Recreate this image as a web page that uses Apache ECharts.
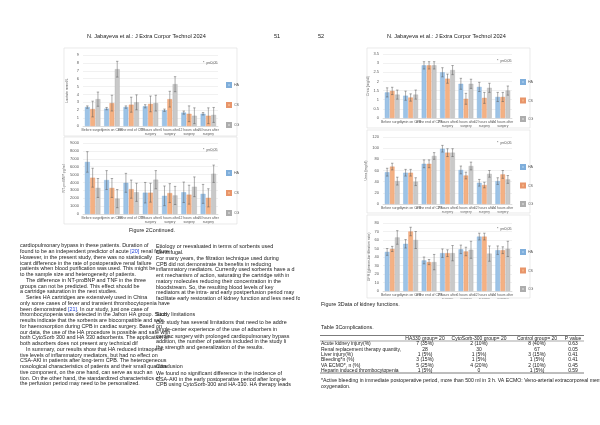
<!DOCTYPE html>
<html><head><meta charset="utf-8">
<script src="https://cdn.jsdelivr.net/npm/echarts@6/dist/echarts.min.js"></script>
<style>html,body{margin:0;padding:0;background:#fff}#c{width:600px;height:425px}</style>
</head><body><div id="c"></div>
<script>
// ---------- data ----------
const categories = ['Before surgery','5 min on CPB','at the end of CPB','2 hours after\nsurgery','6 hours after\nsurgery','12 hours after\nsurgery','24 hours after\nsurgery'];
const groups = ['HA','CS','CG'];

const lactHA = [2.4, 2.2, 2.4, 2.5, 2.0, 1.7, 1.55];
const lactCS = [2.15, 2.9, 2.7, 2.8, 3.4, 1.55, 1.3];
const lactCG = [3.4, 7.2, 3.0, 2.9, 5.3, 1.3, 1.4];
const lactHAErr = [0.15, 0.15, 0.15, 0.2, 0.15, 0.2, 0.15];
const lactCSErr = [1.0, 1.0, 0.95, 1.0, 1.0, 1.0, 1.0];
const lactCGErr = [0.9, 1.0, 0.95, 1.0, 0.95, 1.0, 0.95];

const bnpHA = [6600, 4300, 3950, 2700, 2300, 2750, 2550];
const bnpCS = [4600, 3300, 3150, 2700, 2650, 2450, 2050];
const bnpCG = [3300, 1950, 2750, 4350, 2350, 3450, 5100];
const bnpHAErr = [1300, 1200, 1200, 1300, 1250, 1300, 1200];
const bnpCSErr = [1200, 1200, 1150, 1200, 1200, 1200, 1150];
const bnpCGErr = [1200, 1150, 1150, 1150, 1150, 1250, 1100];

const creaHA = [1.4, 1.22, 2.88, 2.5, 1.87, 1.7, 1.15];
const creaCS = [1.48, 1.12, 2.88, 2.15, 1.05, 1.1, 1.15];
const creaCG = [1.28, 1.28, 2.88, 2.62, 1.87, 1.65, 1.5];
const creaHAErr = [0.25, 0.25, 0.2, 0.25, 0.3, 0.25, 0.25];
const creaCSErr = [0.2, 0.2, 0.2, 0.25, 0.3, 0.3, 0.25];
const creaCGErr = [0.25, 0.25, 0.2, 0.25, 0.25, 0.25, 0.25];

const ureaHA = [57, 56, 72, 99, 61, 38, 41];
const ureaCS = [67, 56, 72, 92, 51, 34, 53];
const ureaCG = [41, 40, 86, 92, 68, 54, 44];
const ureaHAErr = [7, 6, 7, 6, 7, 6, 6];
const ureaCSErr = [6, 6, 7, 7, 6, 5, 7];
const ureaCGErr = [7, 7, 6, 7, 7, 6, 7];

const gfrHA = [46, 55.5, 36, 44.5, 49, 64, 48];
const gfrCS = [49.5, 70, 34, 44.5, 46.5, 64, 48];
const gfrCG = [63, 60, 34, 44.5, 48.5, 44, 49.5];
const gfrHAErr = [4, 5, 4, 5, 5, 4, 5];
const gfrCSErr = [3, 5, 3, 4, 5, 4, 4];
const gfrCGErr = [8, 10, 9, 9, 10, 9, 9];

const yTicks = [
  {min:0, max:9, interval:1},
  {min:0, max:9000, interval:1000},
  {min:0, max:3.5, interval:0.5},
  {min:0, max:120, interval:20},
  {min:0, max:80, interval:10}
];
const yNames = ['Lactate mmol/L','NT-proBNP pg/ml','Crea (mg/dl)','Urea (mg/dl)','GFR (glomerular filtration rate)'];

const tableHead = ['', 'HA330 group= 20', 'CytoSorb-300 group= 20', 'Control group= 20', 'P value'];
const tableRows = [
  ['Acute kidney injury(%)', '7 (35%)', '2 (10%)', '8 (40%)', '0.63'],
  ['Renal replacement therapy quantity,', '28', '30', '67', '0.05'],
  ['Liver injury(%)', '1 (5%)', '1 (5%)', '3 (15%)', '0.41'],
  ['Bleeding*n (%)', '3 (15%)', '1 (5%)', '1 (5%)', '0.41'],
  ['VA ECMO*, n (%)', '5 (25%)', '4 (20%)', '2 (10%)', '0.45'],
  ['Heparin induced thrombocytopenia', '1 (5%)', '0', '1 (5%)', '0.59']
];

const leftColA = [
  'cardiopulmonary bypass in these patients. Duration of',
  'found to be an independent predictor of acute {b|[20]} renal failure',
  'However, in the present study, there was no statistically',
  'icant difference in the rate of postoperative renal failure',
  'patients when blood purification was used. This might be',
  'to the sample size and heterogeneity of patients.',
  '    The difference in NT-proBNP and TNF in the three',
  'groups can not be predicted. This effect should be',
  'a cartridge saturation in the next studies.',
  '    Series HA cartridges are extensively used in China',
  'only some cases of fever and transient thrombocytopenia have',
  'been demonstrated {b|[21]}. In our study, just one case of',
  'thrombocytopenia was detected in the Jafron HA group. Such',
  'results indicate that the sorbents are biocompatible and safe',
  'for haemosorption during CPB in cardiac surgery. Based on',
  'our data, the use of the HA procedure is possible and safe with',
  'both CytoSorb 300 and HA 330 adsorbents. The application of',
  'both adsorbers does not present any technical dif',
  '    In summary, our results show that HA reduced intraopera-',
  'tive levels of inflammatory mediators, but had no effect on',
  'CSA-AKI in patients after long-term CPB. The heterogeneous',
  'nosological characteristics of patients and their small quantita-',
  'tive component, on the one hand, can serve as such an',
  'tion. On the other hand, the standardized characteristics of',
  'the perfusion period may need to be personalized.'
];
const leftColB = [
  [0, 'Etiology or reevaluated in terms of sorbents used'],
  [1, 'Centrifugal.'],
  [2, 'For many years, the filtration technique used during'],
  [3, 'CPB did not demonstrate its benefits in reducing'],
  [4, 'inflammatory mediators. Currently used sorbents have a d'],
  [5, 'ent mechanism of action, saturating the cartridge with in'],
  [6, 'matory molecules reducing their concentration in the'],
  [7, 'bloodstream. So, the resulting blood levels of key'],
  [8, 'mediators at the intra- and early postperfusion period may'],
  [9, 'facilitate early restoration of kidney function and less need for'],
  [11.8, 'Study limitations'],
  [13.2, 'Our study has several limitations that need to be addre'],
  [14.4, 'single-center experience of the use of adsorbers in'],
  [15.5, 'cardiac surgery with prolonged cardiopulmonary bypass'],
  [16.5, 'addition, the number of patients included in the study li'],
  [17.5, 'the strength and generalization of the results.'],
  [20.8, 'Conclusion'],
  [22, 'We found no significant difference in the incidence of'],
  [23, 'CSA-AKI in the early postoperative period after long-te'],
  [24, 'CPB using CytoSorb-300 and HA-330. HA therapy leads']
];

// ---------- layout ----------
const colors = ['#9DC3E6', '#F4B183', '#C9C9C9'];
const borders = ['#7FAEDB', '#E8956A', '#ADADAD'];
const FONT = 'Liberation Sans, Arial, sans-serif';
const grids = [
  {left:83, top:55, width:135, height:71},
  {left:83, top:143, width:135, height:71},
  {left:383, top:54, width:129, height:64},
  {left:383, top:137, width:129, height:67},
  {left:383, top:223, width:129, height:68}
];
const legendPos = [
  {left:221, top:77}, {left:221, top:165},
  {left:515, top:74}, {left:515, top:159}, {left:515, top:244}
];
const panels = [
  [64,48,173,88],[64,137,173,87],[367,48,163,80],[367,130,163,83],[367,215,163,83]
];
const chartData = [
  [[lactHA,lactCS,lactCG],[lactHAErr,lactCSErr,lactCGErr]],
  [[bnpHA,bnpCS,bnpCG],[bnpHAErr,bnpCSErr,bnpCGErr]],
  [[creaHA,creaCS,creaCG],[creaHAErr,creaCSErr,creaCGErr]],
  [[ureaHA,ureaCS,ureaCG],[ureaHAErr,ureaCSErr,ureaCGErr]],
  [[gfrHA,gfrCS,gfrCG],[gfrHAErr,gfrCSErr,gfrCGErr]]
];

const xAxis = [], yAxis = [], series = [], legend = [];
grids.forEach((g, i) => {
  xAxis.push({
    type:'category', gridIndex:i, data:categories,
    axisTick:{show:false},
    axisLine:{lineStyle:{color:'#d0d0d0', width:0.6}},
    axisLabel:{fontSize:3.4, color:'#595959', fontFamily:FONT, interval:0, margin:2, lineHeight:4}
  });
  yAxis.push({
    type:'value', gridIndex:i, min:yTicks[i].min, max:yTicks[i].max, interval:yTicks[i].interval,
    name:yNames[i], nameLocation:'middle', nameRotate:90, nameGap:i<2?14:12,
    nameTextStyle:{fontSize:3.6, color:'#595959', fontFamily:FONT},
    axisLine:{show:false}, axisTick:{show:false},
    splitLine:{lineStyle:{color:'#e2e2e2', width:0.5}},
    axisLabel:{fontSize:4, color:'#595959', fontFamily:FONT, margin:4, formatter: v => String(v)}
  });
  legend.push({
    orient:'vertical', left:legendPos[i].left, top:legendPos[i].top,
    data:groups, itemWidth:4, itemHeight:4, itemGap:i<2?14:12.5, icon:'rect',
    textStyle:{fontSize:3.6, color:'#595959', fontFamily:FONT, padding:[0,0,0,-2]},
    selectedMode:false
  });
  const [vals, errs] = chartData[i];
  groups.forEach((name, k) => {
    series.push({
      type:'bar', name, xAxisIndex:i, yAxisIndex:i, data:vals[k],
      barGap:'10%', barCategoryGap:'20%',
      itemStyle:{color:colors[k], borderColor:borders[k], borderWidth:0.4},
      emphasis:{disabled:true}, animation:false
    });
  });
  groups.forEach((name, k) => {
    series.push({
      type:'custom', xAxisIndex:i, yAxisIndex:i, silent:true, animation:false, z:5,
      data: vals[k].map((v, j) => [j, v, errs[k][j]]),
      renderItem: (params, api) => {
        const j = api.value(0), v = api.value(1), e = api.value(2);
        const band = api.size([1, 0])[0];
        const w = band * 0.25;
        const dx = (k - 1) * 1.1 * w;
        const top = api.coord([j, v + e]);
        const bot = api.coord([j, Math.max(0, v - e)]);
        const x = top[0] + dx;
        const cap = 1.2;
        const st = {stroke:'#5a5a5a', lineWidth:0.5, fill:null};
        return {type:'group', children:[
          {type:'line', shape:{x1:x, y1:top[1], x2:x, y2:bot[1]}, style:st},
          {type:'line', shape:{x1:x-cap, y1:top[1], x2:x+cap, y2:top[1]}, style:st},
          {type:'line', shape:{x1:x-cap, y1:bot[1], x2:x+cap, y2:bot[1]}, style:st}
        ]};
      }
    });
  });
});

// ---------- page text ----------
const g = [];
function T(x, y, s, o) {
  o = o || {};
  g.push({type:'text', x, y, z:o.z || 10, silent:true, style:{
    text:s, fontSize:o.size || 5.4, fontFamily:FONT, fill:o.color || '#1a1a1a',
    align:o.align || 'left', verticalAlign:'middle',
    rich:{b:{fill:'#1f3fd6', fontSize:o.size || 5.4, fontFamily:FONT}}
  }});
}
panels.forEach(p => g.push({type:'rect', z:1, silent:true, shape:{x:p[0], y:p[1], width:p[2], height:p[3]}, style:{fill:null, stroke:'#dcdcdc', lineWidth:0.6}}));
T(87, 36, 'N. Jabayeva et al.: J Extra Corpor Technol 2024', {size:5.6, z:30});
T(274, 36, '51', {size:5.6, z:30});
T(318, 36, '52', {size:5.6, z:30});
T(387, 36, 'N. Jabayeva et al.: J Extra Corpor Technol 2024', {size:5.6, z:30});
[[203,63],[203,150],[497,61],[497,143],[497,229]].forEach(p => T(p[0], p[1], '*  p<0,05', {size:3.6, color:'#444', z:30}));
T(152, 231, 'Figure 2Continued.', {size:5.4, align:'center', z:30});
const L0 = 246, LS = 5.75;
leftColA.forEach((s, i) => T(20, L0 + i * LS, s, {z:10}));
leftColB.forEach(([i, s]) => T(156, L0 + 1 + i * LS, s, {z:10}));
g.push({type:'rect', z:20, silent:true, shape:{x:300, y:238, width:66, height:62}, style:{fill:'#fff'}});
g.push({type:'rect', z:20, silent:true, shape:{x:300, y:299, width:300, height:110}, style:{fill:'#fff'}});
T(321, 305, 'Figure 3Data of kidney functions.', {size:5.4, z:30});
T(321, 328, 'Table 3Complications.', {size:5.4, z:30});
const colX = [321, 425, 479, 537, 573];
const TS = 5.0;
for (let c = 1; c < 5; c++) T(colX[c], 338.3, tableHead[c], {size:TS, align:'center', z:30});
tableRows.forEach((r, i) => {
  const y = 344 + i * 5.3;
  T(colX[0], y, r[0], {size:TS, z:30});
  for (let c = 1; c < 5; c++) T(colX[c], y, r[c], {size:TS, align:'center', z:30});
});
[[335.5, 0.6], [341, 0.4], [373, 0.6]].forEach(([y, w]) => g.push({type:'line', z:30, silent:true, shape:{x1:320, y1:y, x2:584, y2:y}, style:{stroke:'#222', lineWidth:w}}));
T(321, 381, '*Active bleeding in immediate postoperative period, more than 500 ml in 3 h. VA ECMO: Veno-arterial extracorporeal membrane', {size:5.2, z:30});
T(321, 387, 'oxygenation.', {size:5.2, z:30});

const chart = echarts.init(document.getElementById('c'), null, {renderer:'canvas'});
chart.setOption({
  backgroundColor:'#fff', animation:false,
  grid:grids, xAxis, yAxis, legend, series, graphic:g
});
</script></body></html>
